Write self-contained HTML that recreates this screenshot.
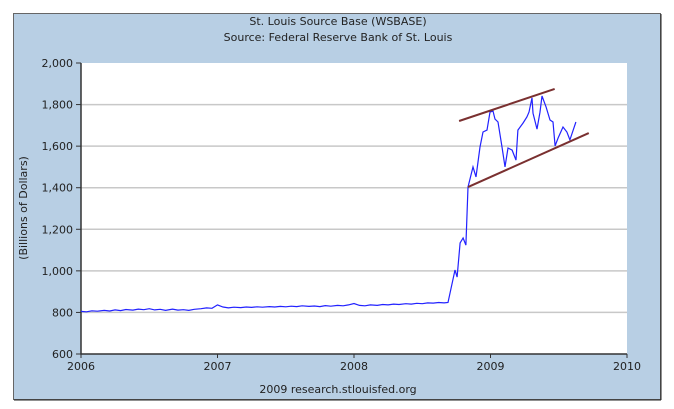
<!DOCTYPE html>
<html><head><meta charset="utf-8"><style>
html,body{margin:0;padding:0;background:#fff;width:674px;height:409px;overflow:hidden}
svg text{font-family:"DejaVu Sans","Liberation Sans",sans-serif;font-size:11px;fill:#222}
</style></head><body>
<svg id="chart" width="674" height="409" xmlns="http://www.w3.org/2000/svg">
<rect x="13.5" y="13.5" width="647" height="386" fill="#b8cfe4" stroke="#666"/>
<line x1="661" y1="14" x2="661" y2="400" stroke="#222"/>
<line x1="14" y1="400" x2="661" y2="400" stroke="#222"/>
<rect x="81" y="63" width="546" height="291" fill="#fff"/>
<text x="338" y="25" text-anchor="middle">St. Louis Source Base (WSBASE)</text>
<text x="338" y="41" text-anchor="middle">Source: Federal Reserve Bank of St. Louis</text>
<text transform="translate(27,208) rotate(-90)" text-anchor="middle">(Billions of Dollars)</text>
<text x="338" y="393" text-anchor="middle">2009 research.stlouisfed.org</text>
<g id="grid"></g><g id="axes"></g><g id="series"></g><g id="trend"></g>
</svg>
<script>
const yTicks=[600,800,1000,1200,1400,1600,1800,2000];
const yTickLabels=["600","800","1,000","1,200","1,400","1,600","1,800","2,000"];
const xTicks=[2006,2007,2008,2009,2010];
const xTickLabels=["2006","2007","2008","2009","2010"];
const dates=[2006.0,2006.04,2006.08,2006.12,2006.17,2006.21,2006.25,2006.29,2006.33,2006.38,2006.42,2006.46,2006.5,2006.54,2006.58,2006.62,2006.67,2006.71,2006.75,2006.79,2006.83,2006.88,2006.92,2006.96,
2007.0,2007.04,2007.08,2007.12,2007.17,2007.21,2007.25,2007.29,2007.33,2007.38,2007.42,2007.46,2007.5,2007.54,2007.58,2007.62,2007.67,2007.71,2007.75,2007.79,2007.83,2007.88,2007.92,2007.96,
2008.0,2008.04,2008.08,2008.12,2008.17,2008.21,2008.25,2008.29,2008.33,2008.38,2008.42,2008.46,2008.5,2008.54,2008.58,2008.62,2008.66,
2008.689,2008.74,2008.755,2008.777,2008.799,2008.82,2008.835,2008.872,2008.894,2008.923,2008.945,2008.974,2008.996,2009.018,2009.033,2009.055,2009.084,2009.106,2009.128,2009.158,2009.187,2009.201,2009.238,2009.267,2009.282,2009.304,2009.311,2009.341,2009.363,2009.377,2009.407,2009.436,2009.458,2009.473,2009.495,2009.531,2009.56,2009.582,2009.626];
const values=[805,803,808,806,810,807,812,809,814,811,816,813,818,812,815,810,816,811,813,810,815,818,822,820,
836,826,822,825,823,826,824,827,825,828,826,829,827,830,828,832,829,831,828,833,830,834,832,836,
843,834,832,836,834,838,836,840,838,842,840,844,842,846,845,848,846,
848,1004,970,1134,1158,1124,1403,1500,1452,1596,1668,1677,1764,1769,1730,1716,1596,1500,1591,1581,1533,1677,1711,1740,1764,1832,1759,1682,1764,1841,1788,1726,1716,1601,1639,1692,1668,1630,1716];
const upperTrend=[[2008.77,1721],[2009.47,1875]];
const lowerTrend=[[2008.835,1403],[2009.72,1663]];
const L=81,R=627,T=63,B=354;
const xs=d=>L+(d-2006)/4*(R-L);
const ys=v=>B-(v-600)/1400*(B-T);
const NS="http://www.w3.org/2000/svg";
function mk(tag,attrs,parent){const e=document.createElementNS(NS,tag);for(const k in attrs)e.setAttribute(k,attrs[k]);document.getElementById(parent).appendChild(e);return e;}
yTicks.forEach((v,i)=>{
 if(i>0&&i<yTicks.length-1){const g=mk('line',{x1:L,x2:R,y1:ys(v),y2:ys(v),stroke:'#c8c8c8','stroke-width':1.5},'grid');
 
 }
 mk('line',{x1:L-5,x2:L,y1:ys(v),y2:ys(v),stroke:'#333'},'axes');
 const t=mk('text',{x:L-8,y:ys(v)+4,'text-anchor':'end'},'axes');t.textContent=yTickLabels[i];
 
 
});
xTicks.forEach((d,i)=>{
 mk('line',{x1:xs(d),x2:xs(d),y1:B,y2:B+4,stroke:'#333'},'axes');
 const t=mk('text',{x:xs(d),y:B+16,'text-anchor':'middle'},'axes');t.textContent=xTickLabels[i];
 
 
});
const ax=mk('path',{d:`M${L},${T} V${B} H${R}`,fill:'none',stroke:'#333','stroke-width':1.5},'axes');


const p=mk('path',{d:dates.map((d,i)=>(i?'L':'M')+xs(d).toFixed(1)+','+ys(values[i]).toFixed(1)).join(''),fill:'none',stroke:'#2222ff','stroke-width':1.2},'series');


[upperTrend,lowerTrend].forEach((tr,i)=>{
 const l=mk('line',{x1:xs(tr[0][0]),y1:ys(tr[0][1]),x2:xs(tr[1][0]),y2:ys(tr[1][1]),stroke:'#7a3030','stroke-width':2},'trend');
 
 
});
</script>
</body></html>
